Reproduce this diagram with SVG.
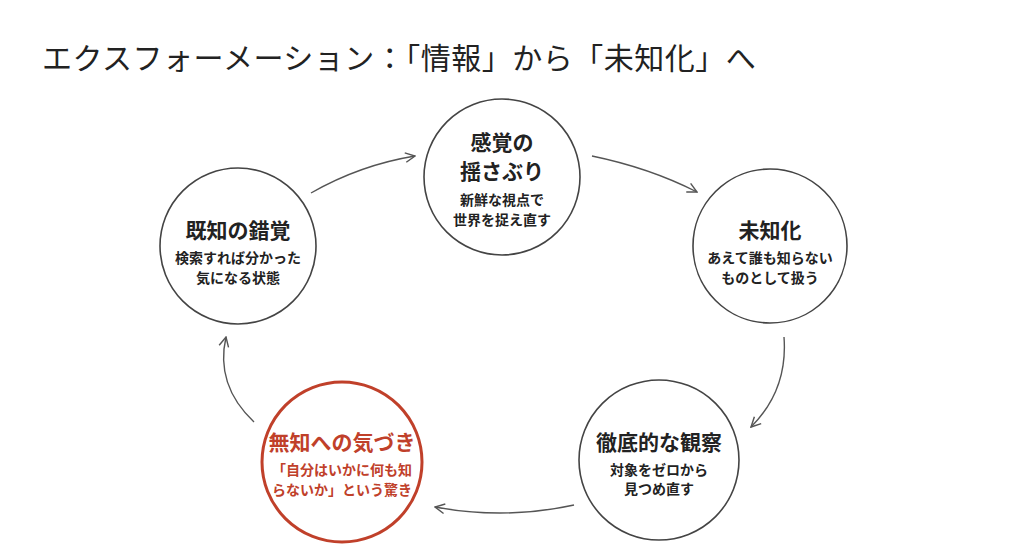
<svg xmlns="http://www.w3.org/2000/svg" width="1024" height="558" viewBox="0 0 1024 558">
<style>
text{font-family:"Noto Sans CJK JP",sans-serif;text-anchor:middle;fill:#222;font-weight:bold}
.n{fill:#fff;stroke:#444;stroke-width:1.6}
.t{font-size:21px}.s{font-size:14px}
.c{fill:none;stroke:#555;stroke-width:1.4;marker-end:url(#a)}
.r text{fill:#c0402a}
</style>
<defs><marker id="a" viewBox="0 0 10 10" refX="9" refY="5" markerWidth="12" markerHeight="12" markerUnits="userSpaceOnUse" orient="auto"><path d="M1 1L9 5L1 9" fill="none" stroke="#555" stroke-width="1.2"/></marker></defs>
<rect width="1024" height="558" fill="#fff"/>
<text x="42" y="69" style="text-anchor:start;font-size:30px;font-weight:normal;letter-spacing:0.5px">エクスフォーメーション：「情報」から「未知化」へ</text>
<g id="connectors">
<path class="c" d="M311 193Q360 165 415 156"/>
<path class="c" d="M592 156Q650 168 697 192"/>
<path class="c" d="M784 337Q788 390 751 427"/>
<path class="c" d="M574 505Q505 520 435 507"/>
<path class="c" d="M254 422Q215 385 226 337"/>
</g>
<g id="n1"><circle class="n" cx="502" cy="177" r="78"/><text class="t" x="502" y="150">感覚の</text><text class="t" x="502" y="179">揺さぶり</text><text class="s" x="502" y="205">新鮮な視点で</text><text class="s" x="502" y="225">世界を捉え直す</text></g>
<g id="n2"><circle class="n" cx="770" cy="246" r="77"/><text class="t" x="770" y="238">未知化</text><text class="s" x="770" y="263">あえて誰も知らない</text><text class="s" x="770" y="283">ものとして扱う</text></g>
<g id="n3"><circle class="n" cx="659" cy="460" r="80"/><text class="t" x="659" y="450">徹底的な観察</text><text class="s" x="659" y="475">対象をゼロから</text><text class="s" x="659" y="494">見つめ直す</text></g>
<g id="n4" class="r"><circle cx="342" cy="462" r="80" fill="#fff" stroke="#c0402a" stroke-width="3"/><text class="t" x="342" y="450">無知への気づき</text><text class="s" x="342" y="475">「自分はいかに何も知</text><text class="s" x="342" y="495">らないか」という驚き</text></g>
<g id="n5"><circle class="n" cx="238" cy="246" r="78"/><text class="t" x="238" y="238">既知の錯覚</text><text class="s" x="238" y="263">検索すれば分かった</text><text class="s" x="238" y="283">気になる状態</text></g>
</svg>
